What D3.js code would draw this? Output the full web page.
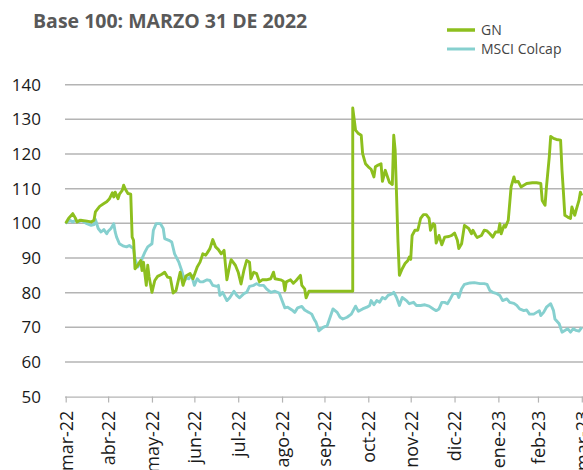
<!DOCTYPE html>
<html>
<head>
<meta charset="utf-8">
<script src="https://cdn.jsdelivr.net/npm/d3@7"></script>
<style>
  body { margin: 0; background: #fff; }
  svg { display: block; }
</style>
</head>
<body>
<script>
const width = 583;
const height = 470;

// days since 31 mar 2022 (base 100)
const gnDays = [0, 2, 5, 7, 8, 10, 14, 18, 20, 21, 24, 27, 29, 31, 33, 34, 35, 37, 38, 40, 41, 42, 44, 46,
  47, 48, 49, 51, 53, 54, 55, 57, 58, 59, 61, 63, 65, 68, 70, 72, 74, 76, 78, 81, 83, 85, 88, 90, 93, 95,
  97, 99, 100, 102, 104, 106, 108, 110, 112, 114, 116, 117, 120, 122, 124, 126, 128, 130, 131, 133, 135,
  137, 139, 142, 145, 147, 148, 152, 154, 155, 156, 159, 161, 163, 166, 167, 169, 170, 172, 176, 203,
  203, 205, 207, 209, 210, 212, 214, 216, 218, 219, 221, 223, 224, 226, 227, 229, 231, 232, 233, 234,
  235, 236, 238, 240, 242, 243, 244, 245, 247, 249, 251, 253, 255, 257, 258, 260, 261, 262, 264, 266,
  268, 271, 273, 275, 277, 278, 280, 282, 285, 287, 288, 290, 291, 294, 296, 298, 300, 302, 304, 306,
  307, 308, 310, 311, 313, 315, 317, 318, 320, 322, 324, 326, 330, 333, 336, 337, 339, 340, 342, 343,
  345, 347, 350, 351, 352, 353, 355, 357, 358, 360, 361, 363, 364, 365];
const gnValues = [100, 101.4, 102.8, 101.4, 100.4, 100.9, 100.7, 100.4, 100.9, 103.3, 104.9, 105.7, 106.2,
  107.1, 108.8, 107.6, 109, 107.1, 108.4, 109.5, 111, 110, 108.6, 108.4,
  96, 95.1, 86.9, 87.9, 89.3, 86.4, 88.8, 82.1, 87.9, 84.5, 80.1, 83.5, 84.7, 85.3, 85.9, 84.5, 84.3, 79.9,
  80.6, 85.9, 82.1, 84.8, 85.5, 84, 87.4, 88.8,
  91.2, 90.8, 91.4, 92.7, 95.3, 93.2, 92.4, 91.2, 92.2, 83.7, 87.9, 89.5, 87.9, 85.9, 82.5, 86.4, 89.3,
  88.8, 84, 85.9, 85.5,
  83.1, 83.7, 83.7, 84, 85.9, 84, 83.7, 83.3, 80.6, 83.1, 83.7, 82.7, 83.5, 85, 82.1, 81.1, 78.5, 80.4,
  80.4, 80.4,
  133.3, 126.9, 125.9, 125.4, 120.1, 117.2, 116.3, 115.6, 113.4, 116.3, 116.8, 117.2, 112.1, 115.3, 114.1,
  111.8, 111.2, 125.4, 121.1, 108.1,
  94.6, 85, 86.9, 88.4, 89.3, 90.3, 89.6, 96.5, 98, 98, 101.4, 102.5, 102.5, 101.4, 98, 99.9, 99.5, 94.3,
  96.5, 93.8,
  96, 96.2, 96.5, 97.2, 95.1, 92.7, 94.1, 99.4, 98.5, 97, 98, 96.5, 95.9, 96.5, 98, 97.8, 97, 96, 97.5, 97.5,
  99.9, 97, 99.4, 98.9, 100.9, 110.5, 113.4, 111.9, 112.1, 110.5, 111, 111.5, 111.7, 111.7, 111.5, 106.6,
  105.2, 110.5, 119.2, 125.1,
  124.5, 124.2, 124, 115.3, 109, 102.3, 101.8, 101.4, 104.7, 102.3, 103.8, 106.6, 109, 108];

const colcapDays = [0, 3, 5, 7, 9, 11, 15, 18, 20, 21, 23, 25, 27, 29, 30, 32, 34, 35, 36, 38, 41, 43, 45,
  48, 49, 51, 53, 54, 56, 58, 61, 62, 64, 67, 69, 70, 73, 75, 77, 80, 82, 84, 86, 87, 89, 91, 93, 95, 97,
  100, 102, 104, 107, 108, 109, 111, 114, 116, 119, 121, 123, 126, 128, 130, 133, 135, 137, 140, 142, 145,
  148, 151, 153, 155, 157, 160, 162, 164, 167, 169, 172, 174, 176, 177, 179, 182, 185, 187, 189, 192, 194,
  196, 199, 202, 205, 207, 210, 213, 215, 216, 218, 220, 222, 224, 226, 228, 231, 232, 234, 236, 238, 241,
  243, 246, 248, 251, 254, 257, 260, 262, 264, 266, 268, 270, 272, 274, 277, 278, 280, 282, 286, 289, 293,
  296, 298, 300, 302, 305, 307, 309, 312, 314, 317, 319, 321, 324, 326, 328, 331, 333, 335, 336, 338, 340,
  343, 345, 346, 349, 351, 353, 355, 357, 359, 361, 363, 365];
const colcapValues = [100, 100.9, 100.4, 100.9, 100.4, 100.9, 99.9, 99.4, 99.6, 101.1, 98.5, 97.5, 98.2, 97,
  97.7, 98.5, 99.9, 97.5, 96, 94.1, 93.4, 93.2, 93.6,
  92.7, 89.8, 87.4, 88.8, 89.8, 91.7, 93.2, 94.1, 98, 99.9, 99.9, 98.5, 95.6, 95.1, 94.6, 91.2, 88.8, 86.4,
  83.5, 84.3, 84, 85, 82.1, 84, 83.1, 83.1,
  83.7, 83.5, 82.1, 81.8, 82.1, 79.2, 80.1, 77.7, 78.5, 80.4, 79.2, 78.5, 79.7, 80.1, 81.8, 82.1, 82.6,
  82.1, 82.1, 81.1, 80.1,
  80.4, 79.9, 77.7, 75.6, 75.8, 75, 74.3, 75.6, 76, 75, 74.3, 73.8, 72.1, 71.5, 69, 70, 70.5, 72.9, 75.3,
  74.3, 72.9,
  72.4, 72.9, 73.8, 76.1, 74.6, 75.3, 75.8, 76.3, 77.7, 76.5, 77.7, 77.2, 78.6, 78.2, 79.2, 79.7, 80.1,
  78.6, 76.3, 78.6, 77.7,
  76.8, 77.2, 76.3, 76.3, 76.5, 76.1, 75.3, 74.8, 75.3, 77.2, 77.2, 76.8, 78.2, 79.7, 79.7, 78.6, 81.1,
  82.4, 82.8, 82.9, 82.6,
  82.6, 82.4, 80.6, 80.1, 79.7, 79.2, 77.7, 78.2, 77.2, 76.9, 76.3, 75.3, 74.8, 75, 73.8, 73.8, 74.3, 74.8,
  73.4, 74.3, 75.8,
  76.8, 74.8, 72.4, 71, 68.6, 69.1, 69.6, 68.6, 69.6, 69.1, 68.9, 70];

const tickDates = ['2022-03-31', '2022-04-30', '2022-05-31', '2022-06-30', '2022-07-31', '2022-08-31',
  '2022-09-30', '2022-10-31', '2022-11-30', '2022-12-31', '2023-01-31', '2023-02-28', '2023-03-31'];
const tickLabels = ['mar-22', 'abr-22', 'may-22', 'jun-22', 'jul-22', 'ago-22', 'sep-22', 'oct-22',
  'nov-22', 'dic-22', 'ene-23', 'feb-23', 'mar-23'];
const yTicks = [50, 60, 70, 80, 90, 100, 110, 120, 130, 140];

const seriesNames = ['GN', 'MSCI Colcap'];
const colors = ['#8dbf1e', '#86d0cf'];

const parse = d3.timeParse('%Y-%m-%d');
const base = parse('2022-03-31');

const svg = d3.select('body').append('svg')
  .attr('width', width)
  .attr('height', height);

const x = d3.scaleTime()
  .domain([base, parse('2023-03-31')])
  .range([65.7, 581.8]);
const y = d3.scaleLinear()
  .domain([50, 140])
  .range([396.6, 84.7]);

// title
svg.append('text')
  .attr('x', 33)
  .attr('y', 28)
  .attr('font-family', 'Open Sans')
  .attr('font-weight', 700)
  .attr('font-size', 19.5)
  .attr('fill', '#595959')
  .text('Base 100: MARZO 31 DE 2022');

// gridlines
svg.append('g')
  .selectAll('line')
  .data(yTicks.filter(d => d > 50))
  .enter().append('line')
    .attr('x1', 65)
    .attr('x2', width)
    .attr('y1', d => y(d))
    .attr('y2', d => y(d))
    .attr('stroke', '#b4b4b4')
    .attr('stroke-width', 1.5);

// y labels
const yAxis = svg.append('g')
  .attr('transform', 'translate(44,0)')
  .call(d3.axisLeft(y).tickValues(yTicks).tickSize(0).tickPadding(3));
yAxis.select('.domain').remove();
yAxis.selectAll('text')
  .attr('font-family', 'Open Sans')
  .attr('font-size', 17)
  .attr('fill', '#1a1a1a');

// x axis
const xAxis = svg.append('g')
  .attr('transform', `translate(0,${y(50)})`)
  .call(d3.axisBottom(x)
    .tickValues(tickDates.map(parse))
    .tickSize(6)
    .tickFormat((d, i) => tickLabels[i]));
xAxis.select('.domain')
  .attr('d', `M65,0.5H${width}`)
  .attr('stroke', '#b4b4b4')
  .attr('stroke-width', 1.2);
xAxis.selectAll('.tick line')
  .attr('stroke', '#b4b4b4')
  .attr('stroke-width', 1.2);
xAxis.selectAll('text')
  .attr('font-family', 'Open Sans')
  .attr('font-size', 18)
  .attr('fill', '#1a1a1a')
  .attr('text-anchor', 'end')
  .attr('transform', 'rotate(-90)')
  .attr('x', -14)
  .attr('y', 0)
  .attr('dy', '0.35em');

// lines
const line = d3.line()
  .x(d => x(d3.timeDay.offset(base, d[0])))
  .y(d => y(d[1]));

const series = [
  d3.zip(gnDays, gnValues),
  d3.zip(colcapDays, colcapValues)
];

svg.append('g')
  .selectAll('path')
  .data([series[1], series[0]])
  .enter().append('path')
    .attr('d', line)
    .attr('fill', 'none')
    .attr('stroke', (d, i) => i === 0 ? colors[1] : colors[0])
    .attr('stroke-width', 2.9)
    .attr('stroke-linejoin', 'round');

// legend
const legend = svg.append('g')
  .selectAll('g')
  .data(seriesNames)
  .enter().append('g')
    .attr('transform', (d, i) => `translate(447,${30 + i * 19})`);
legend.append('line')
  .attr('x1', 0)
  .attr('x2', 28)
  .attr('stroke', (d, i) => colors[i])
  .attr('stroke-width', (d, i) => i === 0 ? 3.5 : 3);
legend.append('text')
  .attr('x', 34)
  .attr('dy', '0.35em')
  .attr('font-family', 'Open Sans')
  .attr('font-size', 14)
  .attr('fill', '#444')
  .text(d => d);
</script>
</body>
</html>
